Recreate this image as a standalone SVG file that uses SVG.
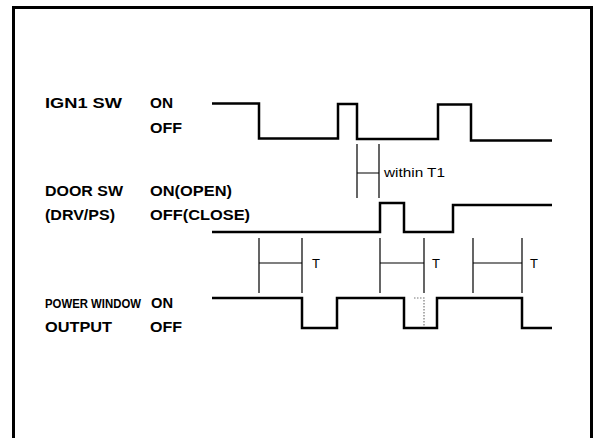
<svg xmlns="http://www.w3.org/2000/svg" width="598" height="438" viewBox="0 0 598 438">
<style>
.lbl{font-family:"Liberation Sans",Arial,sans-serif;font-weight:bold;font-size:14px;fill:#000}
.cond{font-family:"Liberation Sans",Arial,sans-serif;font-weight:bold;font-size:12px;fill:#000}
.reg{font-family:"Liberation Sans",Arial,sans-serif;font-size:13px;fill:#000}
.sig{fill:none;stroke:#000;stroke-width:2.5;stroke-linejoin:miter}
.thin{fill:none;stroke:#000;stroke-width:1.2}
.dot{fill:none;stroke:#777;stroke-width:1.2;stroke-dasharray:1.5 1.5}
</style>
<rect x="0" y="0" width="598" height="438" fill="#fff"/>
<path d="M13.5,445 V7.5 H591.5 V445" fill="none" stroke="#000" stroke-width="3"/>
<g id="labels">
<text class="lbl" x="45" y="108" textLength="77" lengthAdjust="spacingAndGlyphs">IGN1 SW</text>
<text class="lbl" x="150" y="108" textLength="23" lengthAdjust="spacingAndGlyphs">ON</text>
<text class="lbl" x="150" y="133" textLength="32" lengthAdjust="spacingAndGlyphs">OFF</text>
<text class="lbl" x="45" y="196" textLength="78" lengthAdjust="spacingAndGlyphs">DOOR SW</text>
<text class="lbl" x="150" y="196" textLength="82" lengthAdjust="spacingAndGlyphs">ON(OPEN)</text>
<text class="lbl" x="45" y="220" textLength="70" lengthAdjust="spacingAndGlyphs">(DRV/PS)</text>
<text class="lbl" x="150" y="220" textLength="100" lengthAdjust="spacingAndGlyphs">OFF(CLOSE)</text>
<text class="cond" x="45" y="308" textLength="96" lengthAdjust="spacingAndGlyphs">POWER WINDOW</text>
<text class="lbl" x="151" y="308" textLength="22" lengthAdjust="spacingAndGlyphs">ON</text>
<text class="lbl" x="45" y="332" textLength="67" lengthAdjust="spacingAndGlyphs">OUTPUT</text>
<text class="lbl" x="150" y="332" textLength="32" lengthAdjust="spacingAndGlyphs">OFF</text>
</g>
<g id="ign1-signal">
<path class="sig" d="M212,103.5 H259 V138.5 H338 V104 H357 V139 H438 V104.5 H471 V140.5 H552"/>
</g>
<g id="door-signal">
<path class="sig" d="M212,232 H380 V203 H404 V232 H453 V205 H552"/>
</g>
<g id="output-signal">
<path class="sig" d="M212,298 H302 V328 H337 V298 H404 V328 H437 V298 H522 V328 H552"/>
<path class="dot" d="M414,298 H424 V327"/>
</g>
<g id="timing-marks">
<path class="thin" d="M357,144 V198 M379,144 V198 M357,173 H379"/>
<text class="reg" x="384" y="177" textLength="61" lengthAdjust="spacingAndGlyphs">within T1</text>
<path class="thin" d="M259,238 V293 M302,238 V293 M259,263 H302"/>
<text class="reg" x="312" y="268">T</text>
<path class="thin" d="M380,238 V293 M424,238 V293 M380,263 H424"/>
<text class="reg" x="432" y="268">T</text>
<path class="thin" d="M473,238 V293 M522,238 V293 M473,263 H522"/>
<text class="reg" x="530" y="268">T</text>
</g>
</svg>
